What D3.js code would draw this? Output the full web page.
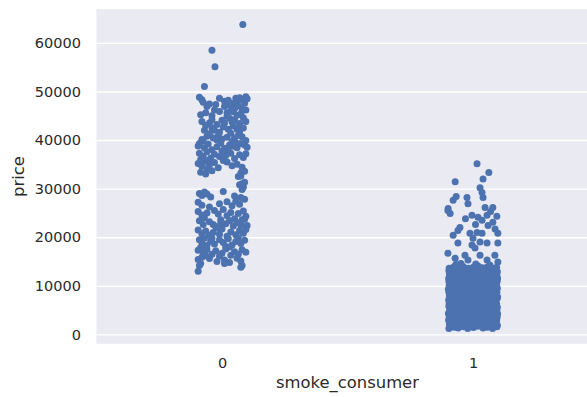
<!DOCTYPE html>
<html>
<head>
<meta charset="utf-8">
<script src="https://cdn.jsdelivr.net/npm/d3@7"></script>
<style>
body{margin:0;background:#fff;overflow:hidden;}
svg{display:block;font-family:"DejaVu Sans",sans-serif;}
</style>
</head>
<body>
<script>
//data: smoke_consumer categories, price ticks
var categories = ["0", "1"];
var yTicks = [0, 10000, 20000, 30000, 40000, 50000, 60000];

//each point: [jitter (1/100 of a category), price (thousands)]
var smokerPoints = [
  [8.3,63.8],[-4,58.5],[-2.8,55.1],[-7,51.0],
  [-9,48.8],[-8,48.3],[-1,48.6],[1,48.0],[6,47.8],[8,48.3],[9.5,48.9],[10,48.5],[7,48.7],[4,47.5],
  [-7.5,47.8],[-5,47.4],[2.5,48.2],[5.5,48.6],[-2.5,47.3],[9.5,46.2],
  [-6,46.9],[-3,46.2],[1,46.9],[3,47.2],[5,46.5],[6.5,47.0],[8,46.4],[9,47.6],[-1,45.9],[4.5,45.8],[7.5,45.4],[2,45.6],
  [-8.5,45.2],[-6.5,45.6],[-4,45.0],[3.5,46.0],
  [-8,43.8],[-5,43.5],[-4,44.2],[0,44.1],[2,44.9],[3,44.5],[5,44.2],[6,45.1],[8.5,44.6],[9.5,43.8],[-2,43.2],[4,43.7],[7,43.4],
  [-6.5,43.0],[-4,42.5],[-3,42.0],[0.5,42.7],[2.5,42.2],[4.5,42.9],[6,42.2],[7,41.7],[8.5,42.5],[1,43.5],[-1,41.6],[3.5,41.4],[-7,42.0],
  [-8,40.1],[-6,40.8],[-5,41.3],[-3.5,40.4],[-1.5,40.9],[0,40.2],[2,40.6],[5,40.4],[6.5,41.0],[8,40.7],[9.5,39.9],[4,39.7],[-9,39.3],[-2,40.0],[-7.5,39.8],
  [-9.5,38.8],[-7,38.4],[-5.5,39.2],[-4,38.0],[-2,38.6],[1,38.3],[3,39.0],[4.5,38.7],[6,38.4],[7.5,39.3],[9,39.0],[10,38.5],[-0.5,39.4],[2.5,37.9],[5.5,39.5],
  [-9,37.3],[-7.5,36.6],[-6,37.6],[-4.5,36.3],[-3,37.1],[-1,36.6],[1.5,36.8],[3.5,37.3],[5,36.2],[7,37.0],[8.5,36.4],[0,37.7],[9.5,37.2],
  [-9.5,35.2],[-8,34.6],[-7,35.6],[-5,34.9],[-3,35.4],[-1.5,34.3],[2,35.5],[4,34.7],[6,35.0],[8,34.4],[-6,34.1],[-5.5,35.8],[0.5,35.8],[-8.5,36.0],
  [-8.5,33.4],[-6.5,33.0],[-4,33.7],[7.5,33.2],[9,33.6],
  [6.5,32.5],[7.5,32.6],[8,31.0],[9,31.3],[7,30.8],[8.5,30.3],
  [-9,29.0],[-8,28.6],[-7,29.3],[-6,28.9],[-4.5,28.3],[0.5,29.4],[5,28.5],[7.5,28.2],[8,29.8],
  [-9.5,27.2],[-8,26.6],[-1,26.9],[2,27.3],[4,26.5],[5.5,27.4],[7,26.8],[9,27.8],[-5,26.2],
  [-9.5,25.3],[-8,24.6],[-3,25.5],[-1.5,24.8],[0.5,25.7],[2,24.4],[3.5,25.1],[6.5,24.9],[8.5,25.4],[9.5,24.3],[-6,25.0],[-7,24.0],
  [-9,23.4],[-7.5,22.6],[-5,23.2],[-2.5,22.2],[-0.5,23.6],[1.5,22.8],[3,23.4],[4.5,22.3],[6,23.0],[7.5,22.5],[9,23.7],[10,22.4],[5,23.8],
  [-3.5,22.6],[8,23.6],[-0.5,22.9],
  [-9.5,21.5],[-8,20.7],[-6.5,21.3],[-5,20.4],[-3.5,21.0],[-1,20.6],[0,21.7],[2,20.2],[3.5,21.1],[5.5,20.5],[7,21.4],[8.5,20.8],[9.5,21.6],[-2,21.9],
  [-9,19.5],[-8,18.8],[-7,19.8],[-6,18.3],[-4.5,19.2],[-3,18.6],[-1,19.5],[0.5,18.9],[2.5,19.7],[4,18.4],[5.5,19.1],[7.5,18.7],[9,19.4],[1.5,18.1],
  [-4,19.8],[3,18.0],[-8.5,17.9],[6.5,19.9],
  [-9.5,17.3],[-7.5,16.8],[-6,17.5],[-4,16.5],[-2.5,17.2],[0,16.7],[1.5,17.6],[3.5,16.3],[5,17.0],[6.5,16.5],[8,17.4],[9.5,16.9],[-1,16.1],[-6.5,16.2],
  [-9.5,15.4],[-8.5,14.6],[-5,15.6],[-2,15.0],[1,15.3],[3,14.8],[6,15.7],[7.5,15.1],[8,14.2],[-9,14.2],[1,14.6],[-8,15.9],
  [-9.5,13.0],[7.5,13.8]
];

var nonSmokerPoints = [
  //scattered upper tail
  [1.6,35.1],[6.3,33.3],[-7.1,31.4],[4,32.0],[2.8,30.2],[3.6,29.2],[-6.7,28.4],[-7.9,27.6],[-2.4,28.2],[-2,26.9],
  [4,28.2],[4.8,26.1],[7.9,26.1],[-10,25.5],[-9.1,24.9],[-9.9,25.9],[-0.4,24.5],[2,24.1],[5.6,24.5],[9.5,24.3],
  [7.9,23.1],[3.6,23.5],[6,22.4],[-5.2,22.0],[-6,21.4],[-1.2,20.8],[1.6,21.0],[3.6,20.8],[-7.9,20.4],[0,19.8],
  [9.9,20.8],[2.8,19.0],[-6,18.8],[-0.4,18.4],[5.6,18.8],[0.8,17.8],[9.9,18.8],[-10,16.7],[-3.2,16.3],[2.8,16.3],
  [8.7,16.3],[-7.1,15.7],[-2,15.3],[5.6,15.3],[9.9,14.9],[7,25.3],[8.8,21.7],[-3,23.8],[1,22.6],
  //dense block
  [-9.6,1.2],[-7.5,1.5],[-5.9,1.3],[-3.8,1.6],[-2.1,1.2],[0.2,1.4],[1.9,1.7],[4.0,1.3],[5.7,1.5],[7.8,1.2],[9.5,1.6],
  [-9.4,2.1],[-7.8,1.9],[-5.6,2.2],[-4.0,2.0],[-1.8,2.3],[0.1,1.9],[2.2,2.1],[3.8,2.4],[6.0,2.0],[7.6,2.2],[9.7,1.9],
  [-9.7,2.9],[-7.6,2.6],[-5.7,3.0],[-3.9,2.7],[-2.2,2.9],[-0.1,2.6],[1.8,3.0],[4.1,2.7],[5.9,2.9],[7.9,2.6],[9.4,2.8],
  [-9.5,3.4],[-7.7,3.7],[-5.8,3.3],[-3.7,3.6],[-1.9,3.4],[0.3,3.7],[2.1,3.3],[3.9,3.6],[5.6,3.4],[7.7,3.7],[9.6,3.5],
  [-9.8,4.3],[-7.4,4.1],[-6.0,4.4],[-4.1,4.2],[-2.0,4.0],[0.0,4.3],[2.0,4.1],[4.2,4.4],[5.8,4.1],[7.5,4.3],[9.8,4.2],
  [-9.3,5.0],[-7.9,4.8],[-5.5,5.1],[-3.8,4.9],[-2.3,5.2],[0.2,4.9],[1.9,5.1],[3.7,4.8],[6.1,5.0],[7.8,5.2],[9.5,4.9],
  [-9.6,5.8],[-7.6,5.6],[-5.9,5.9],[-3.9,5.6],[-1.8,5.8],[-0.2,5.5],[2.2,5.9],[4.0,5.7],[5.7,5.5],[7.6,5.8],[9.7,5.6],
  [-9.5,6.3],[-7.8,6.6],[-5.7,6.4],[-4.0,6.2],[-2.1,6.5],[0.1,6.3],[2.0,6.6],[3.8,6.4],[5.9,6.2],[7.9,6.5],[9.4,6.3],
  [-9.7,7.1],[-7.5,7.3],[-5.8,7.0],[-3.7,7.3],[-1.9,7.1],[0.3,7.4],[1.8,7.1],[4.1,7.3],[5.8,7.0],[7.7,7.2],[9.6,7.4],
  [-9.4,7.9],[-7.7,7.7],[-6.0,8.0],[-3.9,7.8],[-2.2,8.0],[0.0,7.7],[2.1,8.0],[3.9,7.8],[5.6,8.1],[7.5,7.9],[9.8,7.7],
  [-9.6,8.7],[-7.6,8.5],[-5.6,8.8],[-4.1,8.6],[-2.0,8.4],[0.2,8.7],[1.9,8.5],[4.0,8.8],[6.0,8.6],[7.8,8.4],[9.5,8.7],
  [-9.8,9.3],[-7.8,9.5],[-5.9,9.2],[-3.8,9.5],[-1.8,9.3],[-0.1,9.6],[2.2,9.4],[3.7,9.2],[5.8,9.5],[7.6,9.3],[9.7,9.5],
  [-9.5,10.0],[-7.5,10.2],[-5.7,10.0],[-4.0,10.3],[-2.1,10.1],[0.1,9.9],[2.0,10.2],[4.1,10.0],[5.7,10.3],[7.9,10.1],[9.4,10.0],
  [-9.6,10.9],[-7.7,10.7],[-5.8,11.0],[-3.9,10.8],[-2.0,11.0],[0.2,10.7],[1.8,10.9],[3.9,10.7],[5.9,11.0],[7.7,10.8],[9.6,10.9],
  [-9.7,11.5],[-7.6,11.7],[-5.6,11.4],[-3.7,11.7],[-2.2,11.5],[0.0,11.8],[2.1,11.5],[3.8,11.7],[5.6,11.4],[7.8,11.6],[9.8,11.5],
  [-9.4,12.3],[-7.8,12.1],[-6.0,12.4],[-4.0,12.2],[-1.9,12.4],[0.3,12.1],[1.9,12.3],[4.0,12.5],[5.8,12.2],[7.5,12.4],[9.5,12.2],
  [-9.6,13.1],[-7.5,12.9],[-5.7,13.2],[-3.8,12.9],[-2.1,13.1],[-0.1,12.8],[2.2,13.0],[4.2,13.2],[6.0,12.9],[7.7,13.1],[9.7,12.9],
  [-9.5,13.6],[-7.7,13.9],[-5.9,13.7],[-3.9,14.0],[-1.8,13.6],[0.1,13.8],[2.0,14.1],[3.7,13.7],[5.7,13.9],[7.9,13.6],[9.4,13.8],
  [-6.8,14.4],[1.1,14.5],[-4.8,14.6],[6.7,14.3]
];

var w = 587;
var h = 397;
var plotTop = 9.2, plotBottom = 343.8;

var svg = d3.select("body")
            .append("svg")
            .attr("width", w)
            .attr("height", h);

//scales, seaborn style 5% margin on price
var x = d3.scaleLinear().domain([-0.5, categories.length - 0.5]).range([96.5, 598.5]);
var allPrices = smokerPoints.concat(nonSmokerPoints).map(function(d){ return d[1] * 1000; });
var ext = d3.extent(allPrices);
var pad = (ext[1] - ext[0]) * 0.05;
var y = d3.scaleLinear().domain([ext[0] - pad, ext[1] + pad]).range([plotBottom, plotTop]);
var plotW = x(categories.length - 0.5) - x(-0.5);

//background
svg.append("rect")
   .attr("x", x(-0.5))
   .attr("y", plotTop)
   .attr("width", plotW)
   .attr("height", plotBottom - plotTop)
   .attr("fill", "#eaeaf2");

//horizontal grid + y labels
var yAxis = svg.append("g")
   .attr("transform", "translate(" + x(-0.5) + ",0)")
   .call(d3.axisLeft(y)
           .tickValues(yTicks)
           .tickSize(-plotW)
           .tickPadding(15.5)
           .tickFormat(d3.format("d")));
yAxis.select(".domain").remove();
yAxis.selectAll("line").attr("stroke", "#fff").attr("stroke-width", 1.4);
yAxis.selectAll("text").attr("fill", "#2a2a2a").style("font-size", "14.5px").style("font-family", "DejaVu Sans");

//x labels
var xAxis = svg.append("g")
   .attr("transform", "translate(0," + plotBottom + ")")
   .call(d3.axisBottom(x)
           .tickValues(categories.map(function(c, i){ return i; }))
           .tickSize(0)
           .tickPadding(13.8)
           .tickFormat(function(i){ return categories[i]; }));
xAxis.select(".domain").remove();
xAxis.selectAll("text").attr("fill", "#2a2a2a").style("font-size", "14.5px").style("font-family", "DejaVu Sans");

//strips
var groups = [smokerPoints, nonSmokerPoints];
groups.forEach(function(pts, gi){
  svg.append("g").selectAll("circle")
     .data(pts)
     .enter()
     .append("circle")
     .attr("cx", function(d){ return x(gi + d[0] / 100); })
     .attr("cy", function(d){ return y(d[1] * 1000); })
     .attr("r", 3.5)
     .attr("fill", "#4c72b0");
});

//axis titles
svg.append("text")
   .attr("x", (x(-0.5) + x(categories.length - 0.5)) / 2)
   .attr("y", 388)
   .attr("text-anchor", "middle")
   .attr("fill", "#2a2a2a")
   .style("font-size", "16.4px")
   .text("smoke_consumer");

svg.append("text")
   .attr("transform", "translate(24," + ((plotTop + plotBottom) / 2) + ") rotate(-90)")
   .attr("text-anchor", "middle")
   .attr("fill", "#2a2a2a")
   .style("font-size", "16.4px")
   .text("price");
</script>
</body>
</html>
